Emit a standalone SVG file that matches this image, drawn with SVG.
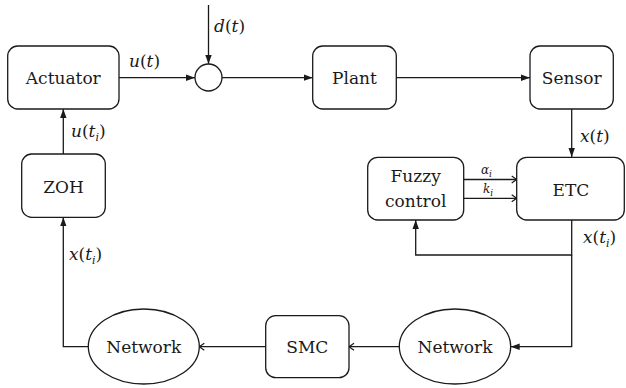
<svg xmlns="http://www.w3.org/2000/svg" width="626" height="388" viewBox="0 0 626 388">
<style>
.box{fill:#fff;stroke:#1a1a1a;stroke-width:1.3}
.lbl{font-family:'DejaVu Serif','Liberation Serif',serif;font-size:17px;fill:#1a1a1a;text-anchor:middle}
.m{font-family:'DejaVu Serif','Liberation Serif',serif;font-size:17px;fill:#1a1a1a}
.mi{font-style:italic}
.sm{font-family:'DejaVu Serif','Liberation Serif',serif;font-size:12px;fill:#1a1a1a;font-style:italic}
.c{fill:none;stroke:#1a1a1a;stroke-width:1.3}
.f{marker-end:url(#fa)}
.o{marker-end:url(#oa)}
</style>
<defs>
<marker id="fa" markerUnits="userSpaceOnUse" markerWidth="10" markerHeight="8" refX="9" refY="4" orient="auto">
<path d="M0,0.8 L9,4 L0,7.2 z" fill="#1a1a1a"/>
</marker>
<marker id="oa" markerUnits="userSpaceOnUse" markerWidth="8" markerHeight="10" refX="6" refY="5" orient="auto">
<path d="M1,1.5 L6,5 L1,8.5" fill="none" stroke="#1a1a1a" stroke-width="1.2"/>
</marker>
</defs>
<g id="connectors">
<path class="c f" d="M119,77.7 H195"/>
<path class="c f" d="M222,77.7 H312.7"/>
<path class="c f" d="M396.3,77.7 H530"/>
<path class="c f" d="M208.5,5 V64"/>
<path class="c f" d="M571.7,109 V157"/>
<path class="c o" d="M463.7,179.5 H516.7"/>
<path class="c o" d="M463.7,198.3 H516.7"/>
<path class="c f" d="M571.7,220 V255 H415.7 V220"/>
<path class="c f" d="M571.7,255 V346.7 H510.7"/>
<path class="c o" d="M399,346.7 H349"/>
<path class="c o" d="M265.7,346.7 H199.3"/>
<path class="c f" d="M88.3,346.7 H63.3 V217.3"/>
<path class="c f" d="M63.3,154 V109"/>
<g id="edge-labels">
<text class="m" x="129" y="67"><tspan class="mi">u</tspan>(<tspan class="mi">t</tspan>)</text>
<text class="m" x="214" y="32"><tspan class="mi">d</tspan>(<tspan class="mi">t</tspan>)</text>
<text class="m" x="71" y="137"><tspan class="mi">u</tspan>(<tspan class="mi">t</tspan><tspan class="mi" font-size="11" dy="4">i</tspan><tspan dy="-4">)</tspan></text>
<text class="m" x="580" y="142"><tspan class="mi">x</tspan>(<tspan class="mi">t</tspan>)</text>
<text class="m" x="583" y="243"><tspan class="mi">x</tspan>(<tspan class="mi">t</tspan><tspan class="mi" font-size="11" dy="4">i</tspan><tspan dy="-4">)</tspan></text>
<text class="m" x="69" y="260"><tspan class="mi">x</tspan>(<tspan class="mi">t</tspan><tspan class="mi" font-size="11" dy="4">i</tspan><tspan dy="-4">)</tspan></text>
<text class="sm" x="481" y="174">α<tspan font-size="9" dy="3">i</tspan></text>
<text class="sm" x="483" y="193">k<tspan font-size="9" dy="3">i</tspan></text>
</g>
</g>
<g id="actuator"><rect class="box" x="7.7" y="46" width="111.3" height="63" rx="10"/><text class="lbl" x="63.3" y="83.5">Actuator</text></g>
<g id="sum"><circle class="box" cx="208.5" cy="77.5" r="13.5"/></g>
<g id="plant"><rect class="box" x="312.7" y="46" width="83.6" height="63" rx="10"/><text class="lbl" x="354.5" y="83.5">Plant</text></g>
<g id="sensor"><rect class="box" x="530" y="46" width="83.3" height="63" rx="10"/><text class="lbl" x="571.7" y="83.5">Sensor</text></g>
<g id="zoh"><rect class="box" x="21.7" y="154" width="83.6" height="63.3" rx="10"/><text class="lbl" x="63.5" y="192.5">ZOH</text></g>
<g id="fuzzy"><rect class="box" x="367.7" y="157.3" width="96" height="62.7" rx="10"/><text class="lbl" x="415.7" y="182">Fuzzy</text><text class="lbl" x="415.7" y="207">control</text></g>
<g id="etc"><rect class="box" x="516.7" y="157.3" width="107.6" height="62.7" rx="10"/><text class="lbl" x="571" y="195.5">ETC</text></g>
<g id="network-right"><ellipse class="box" cx="455" cy="346.5" rx="55.7" ry="37.5"/><text class="lbl" x="455" y="353">Network</text></g>
<g id="smc"><rect class="box" x="265.7" y="315.7" width="83.3" height="62" rx="10"/><text class="lbl" x="307.3" y="353">SMC</text></g>
<g id="network-left"><ellipse class="box" cx="143.8" cy="346.5" rx="55.5" ry="37.5"/><text class="lbl" x="143.8" y="353">Network</text></g>
</svg>
